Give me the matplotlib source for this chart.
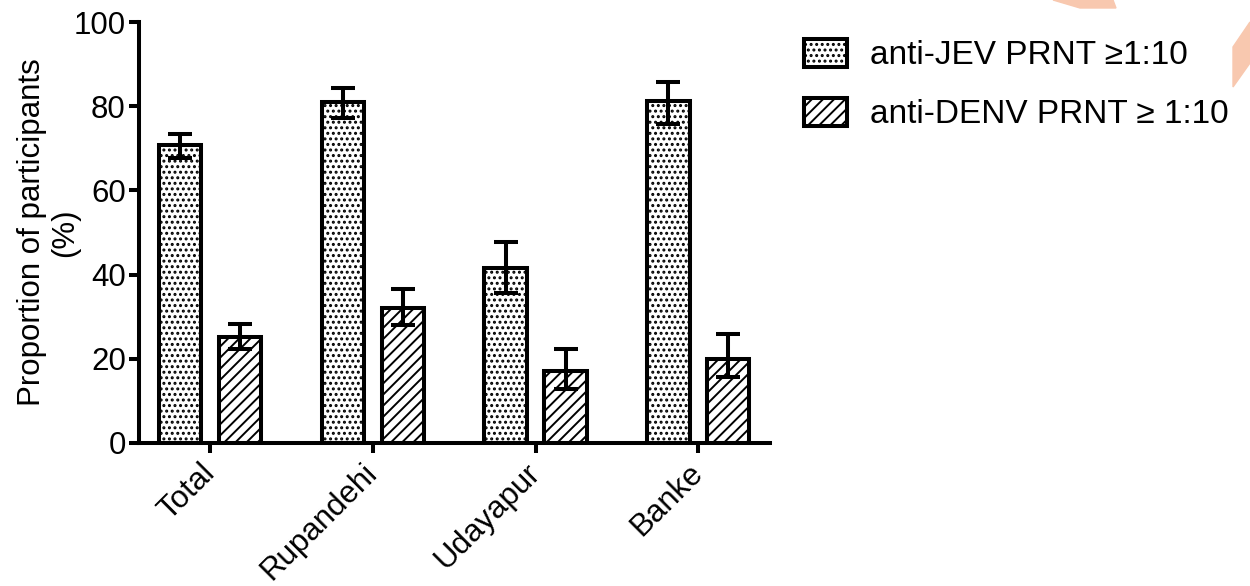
import matplotlib
matplotlib.use("Agg")
import matplotlib.pyplot as plt
from matplotlib.patches import Polygon
import numpy as np

# data
regions = ["Total", "Rupandehi", "Udayapur", "Banke"]
jev = [70.7, 81.0, 41.5, 81.3]
jev_lo = [67.7, 77.2, 35.6, 75.8]
jev_hi = [73.4, 84.3, 47.8, 85.8]
denv = [25.1, 32.0, 17.1, 19.9]
denv_lo = [22.4, 28.0, 12.9, 15.6]
denv_hi = [28.3, 36.6, 22.4, 25.8]
yticks = [0, 20, 40, 60, 80, 100]

plt.rcParams['font.family'] = ['Liberation Sans', 'DejaVu Sans']
plt.rcParams['hatch.linewidth'] = 1.4
FS = 22.5

LW = 2.9


def errs(vals, lo, hi):
    vals = np.array(vals)
    return [vals - np.array(lo), np.array(hi) - vals]


def main():
    fig = plt.figure(figsize=(12.5, 5.86), dpi=100)
    ax = fig.add_axes([139 / 1250, 1 - 443 / 586, (770 - 139) / 1250, (443 - 22) / 586])

    x = np.arange(len(regions))
    w = 0.26
    off = 0.184
    b1 = ax.bar(x - off, jev, w, color="white", edgecolor="black", linewidth=LW,
                hatch="...", label="anti-JEV PRNT \u22651:10", zorder=2)
    b2 = ax.bar(x + off, denv, w, color="white", edgecolor="black", linewidth=LW,
                hatch="///", label="anti-DENV PRNT \u2265 1:10", zorder=2)
    ax.errorbar(x - off, jev, yerr=errs(jev, jev_lo, jev_hi), fmt="none", ecolor="black",
                elinewidth=LW, capsize=8.5, capthick=LW, zorder=3)
    ax.errorbar(x + off, denv, yerr=errs(denv, denv_lo, denv_hi), fmt="none", ecolor="black",
                elinewidth=LW, capsize=8.5, capthick=LW, zorder=3)

    ax.set_xlim(-0.436, 3.44)
    ax.set_ylim(0, 100)
    ax.set_yticks(yticks)
    ax.set_xticks(x)
    ax.set_xticklabels(regions, rotation=45, ha="right", va="center", rotation_mode="anchor")
    ax.spines["top"].set_visible(False)
    ax.spines["right"].set_visible(False)
    ax.spines["left"].set_linewidth(LW)
    ax.spines["bottom"].set_linewidth(LW)
    ax.tick_params(axis="both", width=LW, length=7.5, labelsize=FS)
    ax.tick_params(axis="y", pad=2)
    ax.tick_params(axis="x", pad=11)
    ax.set_ylabel("Proportion of participants\n(%)", fontsize=FS, linespacing=1.15, labelpad=-5)

    fig.legend(handles=[b1, b2], loc="upper left", bbox_to_anchor=(804 / 1250, 1 - 39 / 586),
               frameon=False, borderpad=0, borderaxespad=0, handlelength=1.29,
               handleheight=0.9, handletextpad=0.69, labelspacing=0.8, fontsize=24)

    # orange corner marks
    col = "#f8c8af"
    fig.patches.append(Polygon([(1053, 586), (1113, 586), (1116, 578), (1080, 578)],
                               closed=True, transform=None, color=col, zorder=0))
    fig.patches.append(Polygon([(1250, 564), (1233, 539), (1233, 499), (1250, 523)],
                               closed=True, transform=None, color=col, zorder=0))

    fig.savefig("out.png", dpi=100)


if __name__ == '__main__':
    main()
